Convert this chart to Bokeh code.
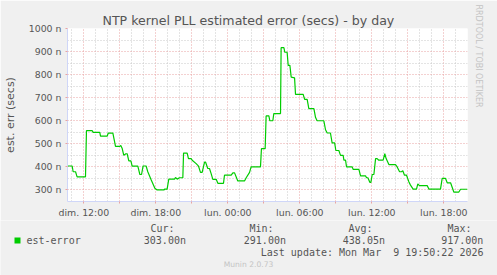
from bokeh.plotting import figure
from bokeh.layouts import column
from bokeh.models import Range1d, FixedTicker, Title, ColumnDataSource
from bokeh.core.properties import value
from bokeh.embed import file_html
from bokeh.resources import INLINE

# ---------------- data (hours since Sunday 00:00, error in ns) ----------------
hours = [10.64, 11.03, 11.11, 11.31, 11.44, 12.14, 12.22, 12.69, 12.78, 13.33,
         13.39, 13.94, 14.03, 14.42, 14.64, 15.0, 15.08, 15.19, 15.33, 15.5,
         15.61, 15.75, 15.92, 16.03, 16.5, 16.67, 16.81, 16.94, 17.19, 17.33,
         17.6, 17.92, 18.11, 18.67, 18.75, 18.94, 19.08, 19.56, 19.64, 19.78,
         19.97, 20.25, 20.31, 20.61, 20.72, 20.94, 21.03, 21.36, 21.56, 21.72,
         21.86, 22.06, 22.14, 22.33, 22.47, 22.61, 22.75, 23.03, 23.17, 23.64,
         23.72, 24.28, 24.42, 24.56, 24.69, 24.83, 25.39, 25.53, 25.81, 25.94,
         26.72, 26.8, 27.11, 27.19, 27.42, 27.5, 27.75, 27.83, 28.39, 28.44,
         28.67, 28.75, 28.94, 29.03, 29.17, 29.28, 29.56, 29.64, 30.28, 30.4,
         30.61, 30.75, 31.17, 31.31, 31.44, 32.0, 32.14, 32.28, 32.55, 32.69,
         32.9, 33.0, 33.25, 33.39, 33.61, 33.67, 33.81, 33.89, 34.36, 34.45,
         34.92, 35.06, 35.47, 35.56, 35.67, 35.83, 35.92, 36.03, 36.17, 36.31,
         36.44, 36.58, 36.94, 37.08, 37.19, 37.42, 37.97, 38.11, 38.31, 38.47,
         38.58, 38.72, 38.89, 39.08, 39.22, 39.44, 39.72, 39.83, 39.97, 40.61,
         40.75, 41.72, 41.86, 42.14, 42.28, 42.56, 42.83, 43.25, 43.39, 43.97]
err_ns = [404, 404, 379, 379, 357, 357, 557, 557, 550, 550,
          533, 533, 546, 546, 489, 489, 493, 481, 450, 457,
          457, 426, 426, 403, 403, 367, 367, 404, 404, 379,
          345, 307, 300, 300, 304, 304, 347, 347, 354, 347,
          353, 353, 460, 460, 436, 436, 429, 414, 403, 376,
          376, 421, 421, 393, 393, 371, 346, 346, 329, 329,
          364, 364, 374, 374, 357, 339, 339, 353, 376, 400,
          400, 479, 479, 621, 621, 600, 600, 631, 631, 917,
          917, 897, 897, 840, 840, 789, 786, 714, 714, 693,
          693, 653, 653, 614, 600, 600, 561, 547, 547, 504,
          504, 471, 471, 450, 450, 429, 429, 400, 400, 389,
          389, 361, 361, 353, 353, 333, 333, 367, 367, 436,
          436, 429, 429, 457, 436, 410, 410, 400, 379, 379,
          383, 364, 364, 336, 321, 304, 304, 326, 319, 319,
          304, 304, 350, 350, 331, 331, 291, 291, 303, 303]

x_tick_hours = [12, 15, 18, 21, 24, 27, 30, 33, 36, 39, 42]
x_tick_labels = ["dim. 12:00", "", "dim. 18:00", "", "lun. 00:00", "",
                 "lun. 06:00", "", "lun. 12:00", "", "lun. 18:00"]
x_minor_hours = [h for h in range(11, 44) if h % 3 != 0]
y_ticks = [300, 400, 500, 600, 700, 800, 900, 1000]
y_tick_labels = ["300 n", "400 n", "500 n", "600 n", "700 n", "800 n", "900 n", "1000 n"]
y_minor = [250, 350, 450, 550, 650, 750, 850, 950]

title_text = "NTP kernel PLL estimated error (secs) - by day"
y_label = "est. err (secs)"
series_name = "est-error"
stat_names = ["Cur:", "Min:", "Avg:", "Max:"]
stat_values = ["303.00n", "291.00n", "438.05n", "917.00n"]
last_update = "Last update: Mon Mar \u00a09 19:50:22 2026"
footer = "Munin 2.0.73"
watermark = "RRDTOOL / TOBI OETIKER"

# ---------------- styling ----------------
BG = "#F0F0F0"
FONT_C = "#555555"
AXIS_C = "#CFD6F8"
MGRID = "#e8a3a3"
GRID = "#c8c8c8"
LINE_C = "#00CC00"
WM_C = "#c4c4c4"

X0, X1 = 10.64, 43.97
Y0, Y1 = 250, 1000
TOP_H = 220

p = figure(width=497, height=TOP_H, x_range=Range1d(X0, X1), y_range=Range1d(Y0, Y1),
           min_border_left=67, min_border_right=30, min_border_top=28, min_border_bottom=17,
           toolbar_location=None, output_backend="svg",
           background_fill_color="white", border_fill_color=BG, outline_line_color=None)

# title
p.title.text = title_text
p.title.align = "left"
p.title.offset = 35
p.title.standoff = 2
p.title.text_font = "DejaVu Sans"
p.title.text_font_size = "12.6px"
p.title.text_font_style = "normal"
p.title.text_color = FONT_C

# watermark on the right side
p.add_layout(Title(text=watermark, align="left", offset=-24, standoff=12,
                   text_font="DejaVu Sans", text_font_size="8px",
                   text_font_style="normal", text_color=WM_C), "right")

# axes
p.xaxis.ticker = FixedTicker(ticks=x_tick_hours, minor_ticks=x_minor_hours)
p.xaxis.major_label_overrides = {h: l for h, l in zip(x_tick_hours, x_tick_labels)}
p.yaxis.ticker = FixedTicker(ticks=y_ticks, minor_ticks=y_minor)
p.yaxis.major_label_overrides = {v: l for v, l in zip(y_ticks, y_tick_labels)}
for ax in (p.xaxis, p.yaxis):
    ax.axis_line_color = AXIS_C
    ax.major_tick_line_color = MGRID
    ax.major_tick_out = 2
    ax.major_tick_in = 0
    ax.minor_tick_line_color = GRID
    ax.minor_tick_out = 0
    ax.minor_tick_in = 0
    ax.major_label_text_font = "DejaVu Sans"
    ax.major_label_text_font_size = "9.4px"
    ax.major_label_text_color = FONT_C
p.xaxis.major_label_standoff = 3
p.yaxis.major_label_standoff = 4
p.yaxis.axis_label = y_label
p.yaxis.axis_label_text_font = "DejaVu Sans"
p.yaxis.axis_label_text_font_size = "11px"
p.yaxis.axis_label_text_font_style = "normal"
p.yaxis.axis_label_text_color = FONT_C
p.yaxis.axis_label_standoff = 9

# grids
for g in (p.xgrid, p.ygrid):
    g.grid_line_color = MGRID
    g.grid_line_dash = "1 2"
    g.grid_line_width = 1
    g.minor_grid_line_color = GRID
    g.minor_grid_line_dash = "1 2"
    g.minor_grid_line_width = 1

# series
src = ColumnDataSource(dict(h=hours, v=err_ns))
p.line("h", "v", source=src, line_color=LINE_C, line_width=1.2)

# ---------------- legend / statistics panel (canvas pixel coordinates) ----------------
LEG_H = 275 - TOP_H
q = figure(width=497, height=LEG_H, x_range=Range1d(0, 497), y_range=Range1d(275, TOP_H),
           min_border=0, toolbar_location=None, output_backend="svg",
           x_axis_location=None, y_axis_location=None,
           background_fill_color=BG, border_fill_color=BG, outline_line_color=None)
q.xgrid.visible = False
q.ygrid.visible = False
for fig in (p, q):
    try:
        fig.frame_align = False
    except Exception:
        pass

mono = value("DejaVu Sans Mono")
q.quad(left=[14], right=[20], top=[237], bottom=[243], fill_color=LINE_C, line_color=None)
q.text(x=[26], y=[240], text=[series_name], text_font=mono, text_font_size="10px",
       text_color=FONT_C, text_baseline="middle", text_align="left")
q.text(x=[150, 249, 348, 447], y=[228.3] * 4, text=stat_names, text_font=mono,
       text_font_size="10px", text_color=FONT_C, text_baseline="middle", text_align="left")
q.text(x=[143.3, 243.3, 342.3, 440.7], y=[240] * 4, text=stat_values, text_font=mono,
       text_font_size="10px", text_color=FONT_C, text_baseline="middle", text_align="left")
q.text(x=[483], y=[251.7], text=[last_update], text_font=mono, text_font_size="10px",
       text_color=FONT_C, text_baseline="middle", text_align="right")
q.text(x=[248], y=[264.3], text=[footer], text_font=value("DejaVu Sans"),
       text_font_size="7.6px", text_color=WM_C, text_baseline="middle", text_align="center")

layout = column(p, q, spacing=0)
open("out.html", "w").write(file_html(layout, INLINE))
